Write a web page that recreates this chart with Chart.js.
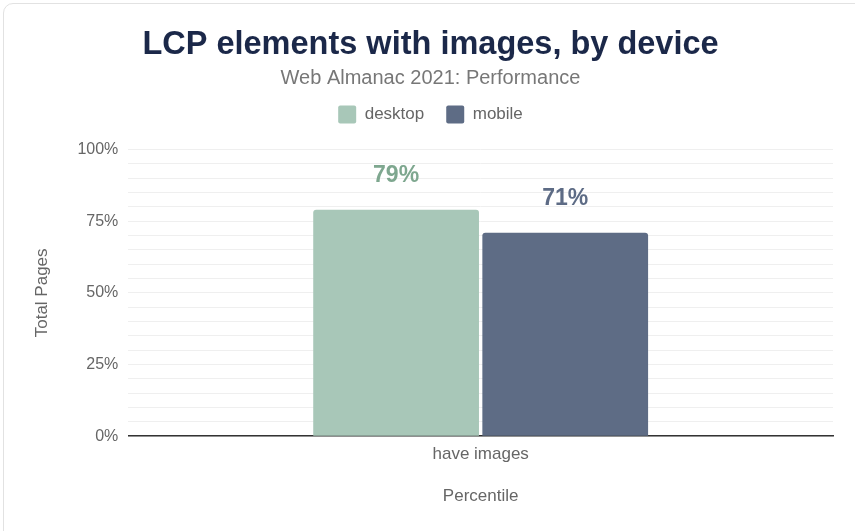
<!DOCTYPE html>
<html>
<head>
<meta charset="utf-8">
<script src="https://cdn.jsdelivr.net/npm/chart.js@4"></script>
<style>
    html, body { margin: 0; padding: 0; background: #fff; }
    .card {
        position: absolute; left: 3px; top: 3px; width: 880px; height: 560px;
        border: 1px solid #e2e2e2; border-radius: 10px; box-sizing: border-box;
    }
    .wrap { position: absolute; left: 0; top: 0; width: 855px; height: 531px; }
</style>
</head>
<body>
<div class="card"></div>
<div class="wrap"><canvas id="grafico" width="855" height="531"></canvas></div>
<script>
const categorias = ['have images'];
const desktop = [79];
const mobile = [71];
const ticksY = [0, 25, 50, 75, 100];

const fonte = "'Liberation Sans', Arial, sans-serif";

// escreve o valor acima de cada barra
const rotulosBarras = {
    id: 'rotulosBarras',
    afterDatasetsDraw(chart) {
        const ctx = chart.ctx;
        ctx.save();
        ctx.font = `bold 23px ${fonte}`;
        ctx.textAlign = 'center';
        ctx.textBaseline = 'middle';
        chart.data.datasets.forEach((ds, i) => {
            chart.getDatasetMeta(i).data.forEach((bar, j) => {
                ctx.fillStyle = ds.labelColor;
                ctx.fillText(`${ds.data[j]}%`, bar.x, bar.y - 34);
            });
        });
        ctx.restore();
    }
};

// um pouco mais de espaco abaixo da legenda
const espacoLegenda = {
    id: 'espacoLegenda',
    beforeInit(chart) {
        const fitOriginal = chart.legend.fit;
        chart.legend.fit = function () {
            fitOriginal.bind(chart.legend)();
            this.height += 16;
        };
    }
};

new Chart(document.getElementById('grafico'), {
    type: 'bar',
    data: {
        labels: categorias,
        datasets: [{
            label: 'desktop',
            data: desktop,
            backgroundColor: '#a8c7b8',
            labelColor: '#7ea78f',
            borderRadius: { topLeft: 3, topRight: 3 },
            borderSkipped: 'bottom'
        }, {
            label: 'mobile',
            data: mobile,
            backgroundColor: '#5e6c85',
            labelColor: '#5d6b85',
            borderRadius: { topLeft: 3, topRight: 3 },
            borderSkipped: 'bottom'
        }]
    },
    options: {
        responsive: false,
        animation: false,
        devicePixelRatio: 1,
        categoryPercentage: 0.48,
        barPercentage: 0.98,
        layout: { padding: { top: 29, left: 28, right: 22, bottom: 20 } },
        plugins: {
            title: {
                display: true,
                text: 'LCP elements with images, by device',
                color: '#1b2849',
                font: { family: fonte, size: 32.5, weight: 'bold', lineHeight: 1 },
                padding: { top: 0, bottom: 7 }
            },
            subtitle: {
                display: true,
                text: 'Web Almanac 2021: Performance',
                color: '#777',
                font: { family: fonte, size: 20, lineHeight: 1 },
                padding: { top: 0, bottom: -5 }
            },
            legend: {
                labels: {
                    color: '#666',
                    font: { family: fonte, size: 17 },
                    boxWidth: 18,
                    boxHeight: 18,
                    useBorderRadius: true,
                    borderRadius: 2,
                    padding: 22
                }
            },
            tooltip: { enabled: false }
        },
        scales: {
            x: {
                grid: { display: false },
                border: { color: '#333', width: 1.5 },
                ticks: { color: '#666', font: { family: fonte, size: 17 }, padding: 0 },
                title: { display: true, text: 'Percentile', color: '#666', font: { family: fonte, size: 17 }, padding: { top: 22 } }
            },
            y: {
                min: 0,
                max: 100,
                border: { display: false },
                grid: { color: '#efefef', drawTicks: false },
                ticks: {
                    stepSize: 5,
                    autoSkip: false,
                    color: '#666',
                    font: { family: fonte, size: 16 },
                    padding: 10,
                    callback: v => ticksY.includes(v) ? `${v}%` : ''
                },
                title: { display: true, text: 'Total Pages', color: '#666', font: { family: fonte, size: 17 }, padding: { bottom: 15 } }
            }
        }
    },
    plugins: [rotulosBarras, espacoLegenda]
});
</script>
</body>
</html>
